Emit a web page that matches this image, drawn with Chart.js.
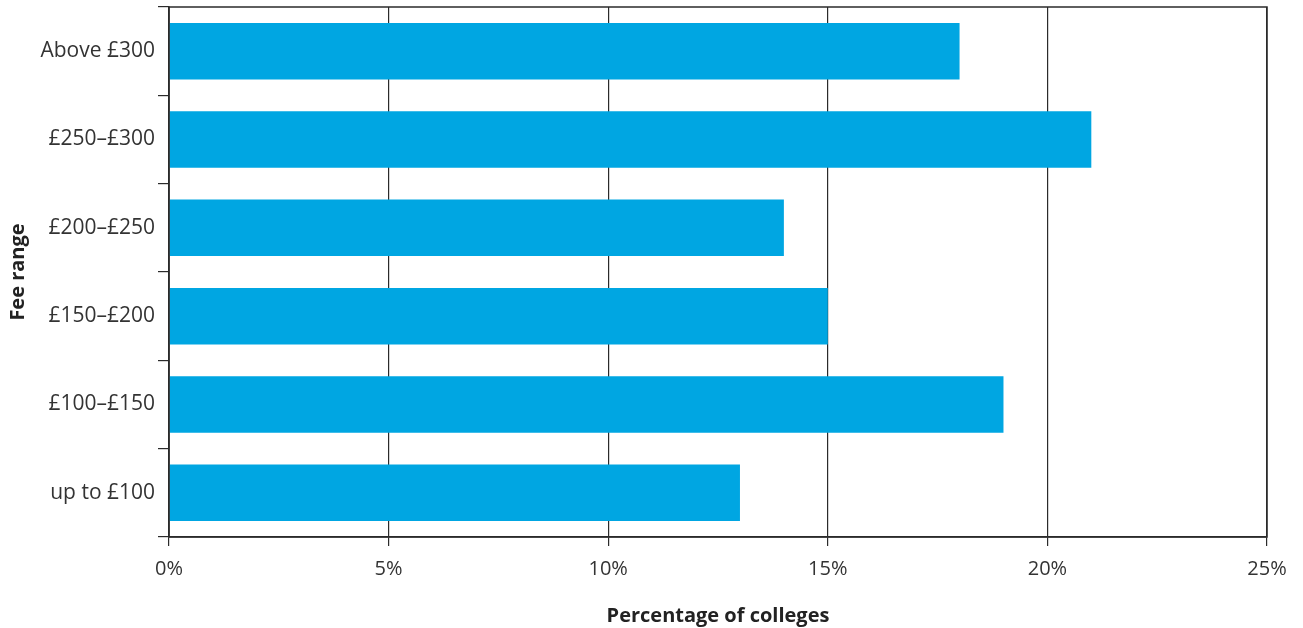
<!DOCTYPE html>
<html>
<head>
<meta charset="utf-8">
<script src="https://cdn.jsdelivr.net/npm/chart.js@4"></script>
<style>
  html, body { margin: 0; padding: 0; background: #fff; }
  #wrap { width: 1303px; height: 628px; }
</style>
</head>
<body>
<div id="wrap"><canvas id="feeChart"></canvas></div>
<script>
// Fee ranges, top to bottom as drawn
const feeRanges = ['Above £300', '£250–£300', '£200–£250', '£150–£200', '£100–£150', 'up to £100'];
const collegeShare = [18, 21, 14, 15, 19, 13];
const xTicks = [0, 5, 10, 15, 20, 25];

const inkColor = '#2b2b2b';
const fontFamily = '"Open Sans", "Noto Sans", sans-serif';

// draws the box round the plot area
const frameBox = {
    id: 'frameBox',
    afterDraw(chart) {
        const a = chart.chartArea;
        const c = chart.ctx;
        c.save();
        c.strokeStyle = inkColor;
        c.lineWidth = 1.5;
        c.strokeRect(a.left, a.top, a.right - a.left, a.bottom - a.top);
        c.restore();
    }
};

var ctx = document.getElementById('feeChart').getContext('2d');
var feeChart = new Chart(ctx, {
    type: 'bar',
    data: {
        labels: feeRanges,
        datasets: [{
            data: collegeShare,
            backgroundColor: '#00a6e2',
            borderWidth: 0,
            barPercentage: 0.8,
            categoryPercentage: 0.8
        }]
    },
    options: {
        indexAxis: 'y',
        responsive: true,
        maintainAspectRatio: false,
        animation: false,
        layout: { padding: { top: 1, right: 36, left: 6, bottom: 0 } },
        plugins: {
            legend: { display: false },
            tooltip: { enabled: false }
        },
        scales: {
            x: {
                min: 0,
                max: 25,
                afterBuildTicks: function (scale) {
                    scale.ticks = xTicks.map(v => ({ value: v }));
                },
                afterFit: function (scale) { scale.height = 91; },
                grid: {
                    color: inkColor,
                    lineWidth: 1.2,
                    tickLength: 9,
                    drawOnChartArea: true
                },
                border: { color: inkColor, width: 1.5 },
                ticks: {
                    color: '#333',
                    padding: 11,
                    maxRotation: 0,
                    font: { family: fontFamily, size: 20 },
                    callback: v => v + '%'
                },
                title: {
                    display: true,
                    text: 'Percentage of colleges',
                    color: '#222',
                    padding: { top: 6, bottom: 0 },
                    font: { family: fontFamily, size: 20, weight: 'bold' }
                }
            },
            y: {
                afterFit: function (scale) {
                    scale.width = 163;
                    // bars are offset, so no room is needed for half a label at the top
                    scale.paddingTop = 7;
                    scale.paddingBottom = 0;
                },
                grid: {
                    offset: true,
                    drawOnChartArea: false,
                    color: inkColor,
                    lineWidth: 1.2,
                    tickLength: 11
                },
                border: { color: inkColor, width: 1.5 },
                ticks: {
                    color: '#333',
                    padding: 3,
                    font: { family: fontFamily, size: 21 }
                },
                title: {
                    display: true,
                    text: 'Fee range',
                    color: '#222',
                    padding: { top: 0, bottom: 0 },
                    font: { family: fontFamily, size: 20, weight: 'bold' }
                }
            }
        }
    },
    plugins: [frameBox]
});
</script>
</body>
</html>
